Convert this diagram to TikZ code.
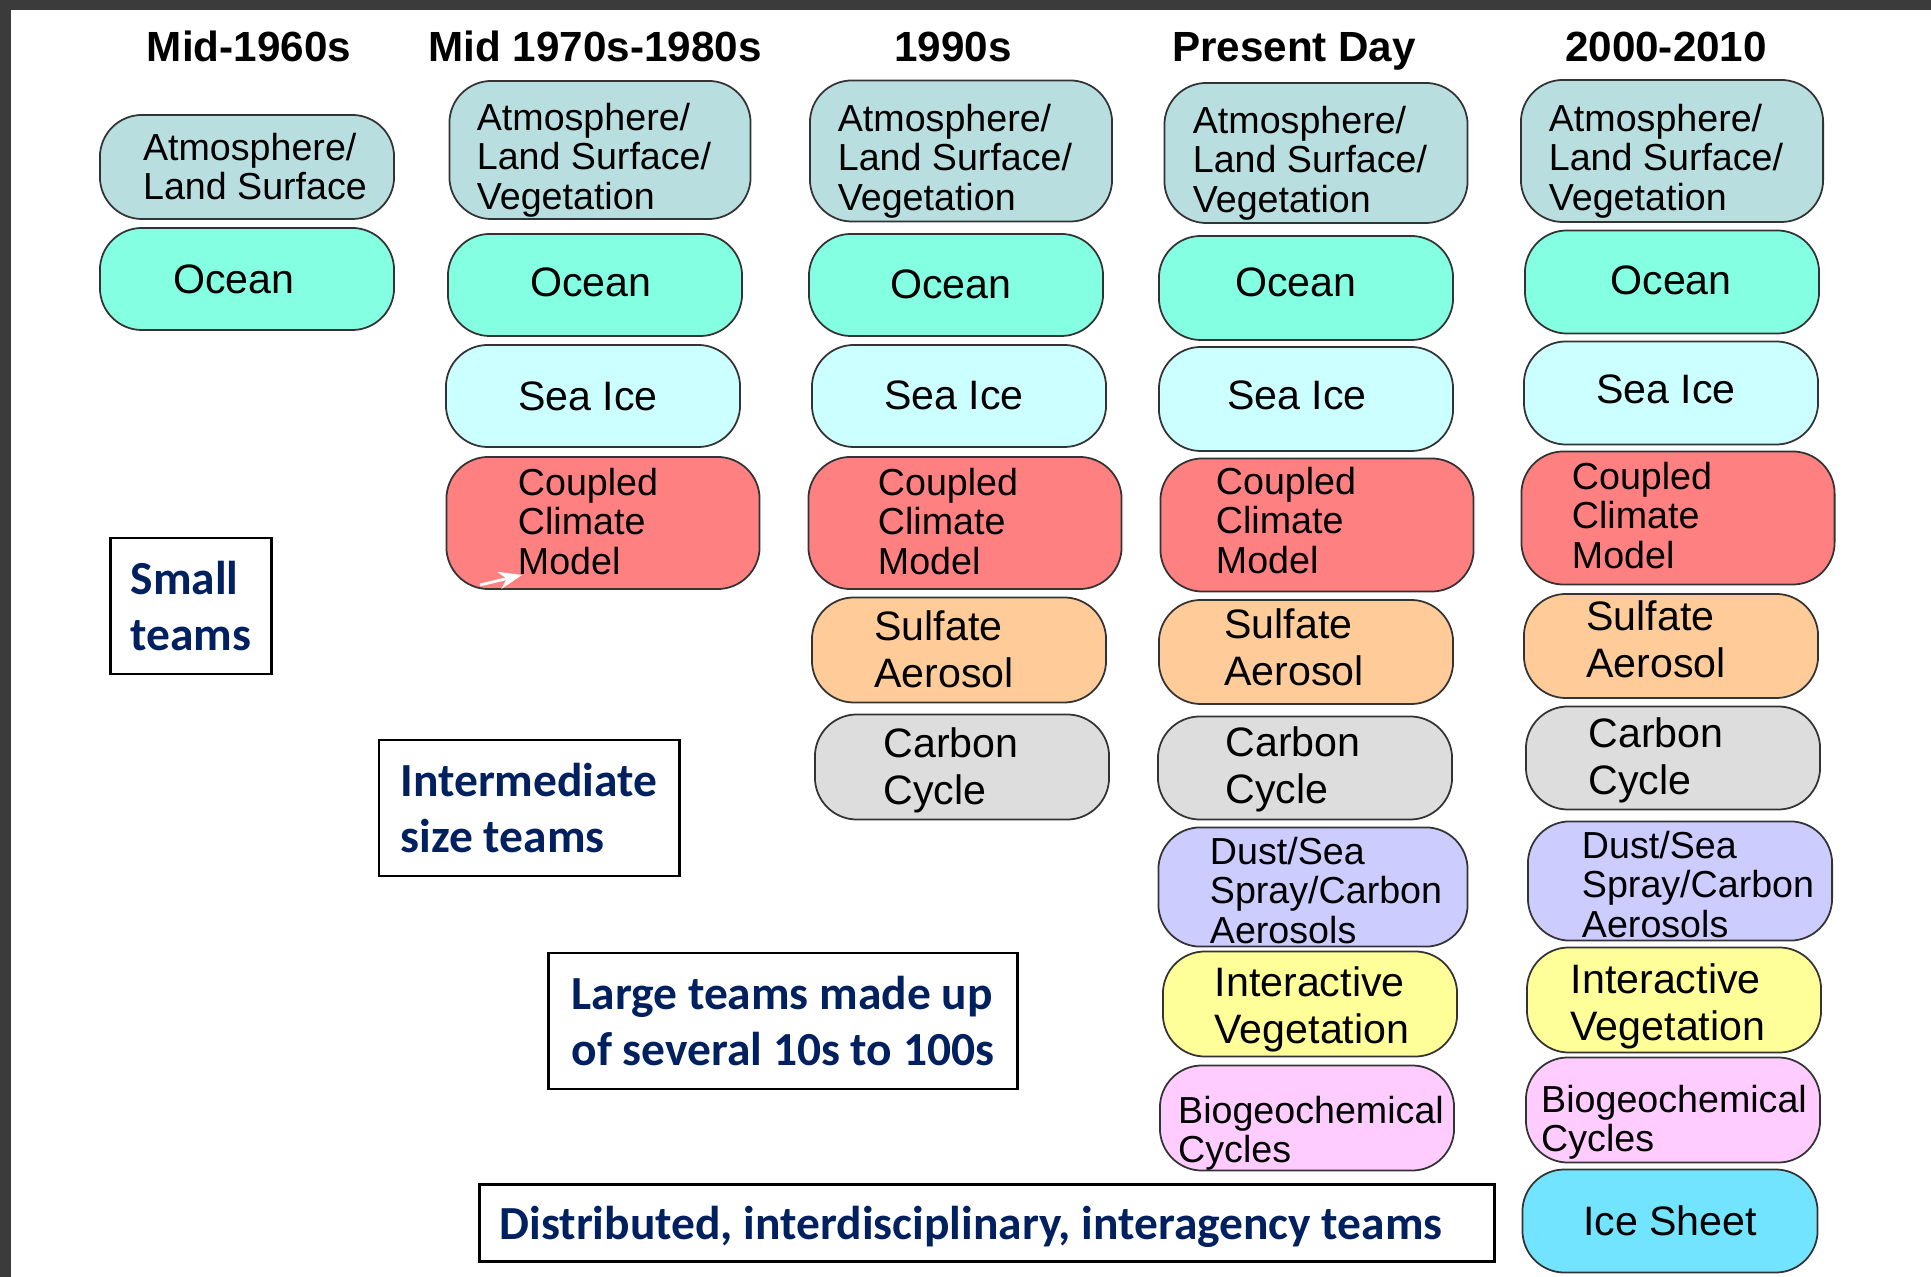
\documentclass[tikz,border=0pt]{standalone}
\usepackage{fontspec}
\setmainfont{Liberation Sans}
\newfontfamily\teamfont{Carlito}
\usetikzlibrary{%
	arrows.meta,%
	positioning,%
}
\definecolor{cframe}{RGB}{59, 59, 59}
\definecolor{cnavy}{RGB}{0, 32, 96}
\definecolor{catmos}{RGB}{185, 222, 224}
\definecolor{cocean}{RGB}{133, 255, 226}
\definecolor{cseaice}{RGB}{204, 255, 255}
\definecolor{ccoupled}{RGB}{255, 128, 128}
\definecolor{csulfate}{RGB}{255, 204, 153}
\definecolor{ccarbon}{RGB}{221, 221, 221}
\definecolor{cdust}{RGB}{204, 204, 255}
\definecolor{cveg}{RGB}{255, 255, 153}
\definecolor{cbio}{RGB}{255, 204, 255}
\definecolor{cicesheet}{RGB}{115, 228, 255}
% text of a box, left aligned, moved by (#1,#2) from the box centre
\newcommand{\modeltext}[3]{\vbox{\kern0.05cm\kern#2\hbox{\kern#1\begin{tabular}{@{}l@{}}#3\end{tabular}\kern-#1}\kern-#2\kern-0.05cm}}
\tikzset{
	>=Stealth,%
	smalltext/.style={font={\fontsize{10.7}{11.3}\selectfont}},%
	bigtext/.style={font={\fontsize{11.7}{13.4}\selectfont}},%
	model/.style={%
			draw=black!80,%
			line width=0.5pt,%
			rounded corners=0.42cm,%
			inner sep=0pt,%
			minimum width=2.94cm,%
			minimum height=1.03cm},%
	atmosnode/.style={model, smalltext, fill=catmos, minimum width=3.02cm, minimum height=1.40cm},%
	oceannode/.style={model, bigtext, fill=cocean},%
	seaicenode/.style={model, bigtext, fill=cseaice},%
	couplednode/.style={model, smalltext, fill=ccoupled, minimum width=3.13cm, minimum height=1.32cm},%
	sulfatenode/.style={model, bigtext, fill=csulfate, minimum height=1.04cm},%
	carbonnode/.style={model, bigtext, fill=ccarbon},%
	dustnode/.style={model, smalltext, fill=cdust, minimum width=3.06cm, minimum height=1.17cm},%
	vegnode/.style={model, bigtext, fill=cveg, minimum height=1.05cm},%
	bionode/.style={model, smalltext, fill=cbio, minimum height=1.05cm},%
	icenode/.style={model, bigtext, fill=cicesheet, minimum width=2.95cm},%
	era/.style={anchor=base, font={\bfseries\fontsize{12}{14}\selectfont}},%
	team/.style={%
			draw,%
			rectangle,%
			line width=0.8pt,%
			align=left,%
			inner sep=0pt,%
			text=cnavy,%
			font={\teamfont\bfseries\fontsize{13.5}{16.1}\selectfont}},%
}

\begin{document}
\begin{tikzpicture}[x=0.01cm, y=-0.01cm]
	\useasboundingbox (0,0) rectangle (1931,1277);
	\fill[white] (0,0) rectangle (1931,1277);
	\fill[cframe] (0,0) rectangle (1931,10);
	\fill[cframe] (0,0) rectangle (11,1277);

	% era headings
	\node[era] (era1) at (249,62) {Mid-1960s};
	\node[era] (era2) at (595,62) {Mid 1970s-1980s};
	\node[era] (era3) at (953,62) {1990s};
	\node[era] (era4) at (1294,62) {Present Day};
	\node[era] (era5) at (1666,62) {2000-2010};

	% Mid-1960s
	\node[atmosnode, minimum width=2.94cm, minimum height=1.04cm] (atm1) at (247,167) {\modeltext{0.08cm}{0cm}{Atmosphere/\\Land Surface}};
	\node[oceannode, minimum height=1.02cm] (ocean1) at (247,279) {\modeltext{-0.13cm}{0cm}{Ocean}};

	% Mid 1970s-1980s
	\node[atmosnode, minimum width=3.01cm, minimum height=1.38cm] (atm2) at (600,150) {\modeltext{-0.06cm}{0.07cm}{Atmosphere/\\Land Surface/\\Vegetation}};
	\node[oceannode, minimum height=1.02cm] (ocean2) at (595,285) {\modeltext{-0.04cm}{-0.03cm}{Ocean}};
	\node[seaicenode, minimum height=1.02cm] (seaice2) at (593,396) {\modeltext{-0.05cm}{0cm}{Sea Ice}};
	\node[couplednode] (coupled2) at (603,523) {\modeltext{-0.15cm}{-0.01cm}{Coupled\\Climate\\Model}};
	\coordinate (arrowtail) at (480,585);
	\coordinate (arrowtip) at (522,575);
	\draw[->, white, line width=0.8pt] (arrowtail) -- (arrowtip);

	% 1990s
	\node[atmosnode, minimum height=1.41cm] (atm3) at (961,151) {\modeltext{-0.06cm}{0.07cm}{Atmosphere/\\Land Surface/\\Vegetation}};
	\node[oceannode, minimum height=1.02cm] (ocean3) at (956,285) {\modeltext{-0.05cm}{-0.01cm}{Ocean}};
	\node[seaicenode, minimum height=1.02cm] (seaice3) at (959,396) {\modeltext{-0.05cm}{-0.01cm}{Sea Ice}};
	\node[couplednode] (coupled3) at (965,523) {\modeltext{-0.17cm}{-0.01cm}{Coupled\\Climate\\Model}};
	\node[sulfatenode, minimum height=1.05cm] (sulfate3) at (959,650) {\modeltext{-0.15cm}{0cm}{Sulfate\\Aerosol}};
	\node[carbonnode, minimum height=1.05cm] (carbon3) at (962,767) {\modeltext{-0.11cm}{0cm}{Carbon\\Cycle}};

	% Present Day
	\node[atmosnode, minimum width=3.03cm] (atm4) at (1316,153) {\modeltext{-0.06cm}{0.07cm}{Atmosphere/\\Land Surface/\\Vegetation}};
	\node[oceannode, minimum height=1.04cm] (ocean4) at (1306,288) {\modeltext{-0.10cm}{-0.06cm}{Ocean}};
	\node[seaicenode, minimum height=1.04cm] (seaice4) at (1306,399) {\modeltext{-0.09cm}{-0.04cm}{Sea Ice}};
	\node[couplednode, minimum height=1.33cm] (coupled4) at (1317,525) {\modeltext{-0.31cm}{-0.04cm}{Coupled\\Climate\\Model}};
	\node[sulfatenode] (sulfate4) at (1306,652) {\modeltext{-0.12cm}{-0.04cm}{Sulfate\\Aerosol}};
	\node[carbonnode] (carbon4) at (1305,768) {\modeltext{-0.12cm}{-0.02cm}{Carbon\\Cycle}};
	\node[dustnode, minimum width=3.09cm] (dust4) at (1313,887) {\modeltext{0.13cm}{0.04cm}{Dust/Sea\\Spray/Carbon\\Aerosols}};
	\node[vegnode] (veg4) at (1310,1004) {\modeltext{0.02cm}{0.02cm}{Interactive\\Vegetation}};
	\node[bionode] (bio4) at (1307,1118) {\modeltext{0.04cm}{0.12cm}{Biogeochemical\\Cycles}};

	% 2000-2010
	\node[atmosnode, minimum height=1.42cm] (atm5) at (1672,151) {\modeltext{-0.06cm}{0.07cm}{Atmosphere/\\Land Surface/\\Vegetation}};
	\node[oceannode] (ocean5) at (1672,282) {\modeltext{-0.01cm}{-0.02cm}{Ocean}};
	\node[seaicenode] (seaice5) at (1671,393) {\modeltext{-0.05cm}{-0.04cm}{Sea Ice}};
	\node[couplednode, minimum height=1.33cm] (coupled5) at (1678,518) {\modeltext{-0.36cm}{-0.02cm}{Coupled\\Climate\\Model}};
	\node[sulfatenode] (sulfate5) at (1671,646) {\modeltext{-0.15cm}{-0.06cm}{Sulfate\\Aerosol}};
	\node[carbonnode] (carbon5) at (1673,758) {\modeltext{-0.17cm}{-0.01cm}{Carbon\\Cycle}};
	\node[dustnode, minimum width=3.04cm] (dust5) at (1680,881) {\modeltext{0.18cm}{0.04cm}{Dust/Sea\\Spray/Carbon\\Aerosols}};
	\node[vegnode] (veg5) at (1674,1000) {\modeltext{-0.06cm}{0.03cm}{Interactive\\Vegetation}};
	\node[bionode] (bio5) at (1673,1110) {\modeltext{0.01cm}{0.09cm}{Biogeochemical\\Cycles}};
	\node[icenode] (ice5) at (1670,1221) {\modeltext{0cm}{0cm}{Ice Sheet}};

	% team sizes
	\node[team, minimum width=1.61cm, minimum height=1.36cm] (smallteams) at (191,606) {Small\\teams};
	\node[team, minimum width=3.00cm, minimum height=1.36cm] (midteams) at (529,808) {Intermediate\\size teams};
	\node[team, minimum width=4.69cm, minimum height=1.36cm] (largeteams) at (783,1021) {Large teams made up\\of several 10s to 100s};
	\node[team, minimum width=10.14cm, minimum height=0.77cm] (distteams) at (987,1223) {\vbox{\kern0.04cm\hbox{\kern-0.16cm Distributed, interdisciplinary, interagency teams\kern0.16cm}\kern-0.04cm}};
\end{tikzpicture}
\end{document}
